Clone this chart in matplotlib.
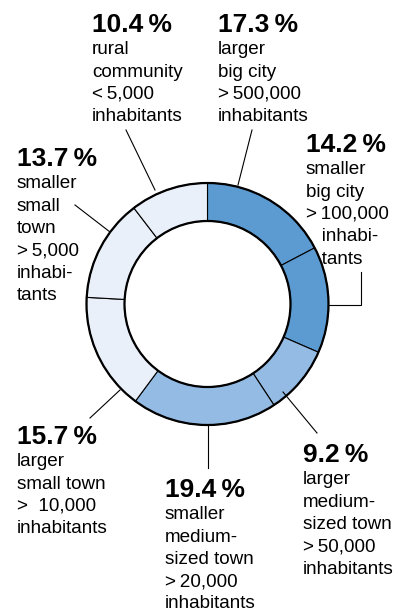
import matplotlib.pyplot as plt
from matplotlib.patches import Circle

plt.rcParams['font.family'] = ['Liberation Sans', 'DejaVu Sans']

# share of population by municipality size, clockwise from the top
shares = [17.3, 14.2, 9.2, 19.4, 15.7, 13.7, 10.4]
pct_labels = ['17.3\u2009%', '14.2\u2009%', '9.2\u2009%', '19.4\u2009%',
              '15.7\u2009%', '13.7\u2009%', '10.4\u2009%']
descriptions = [
    ['larger', 'big city', '>\u2009500,000', 'inhabitants'],
    ['smaller', 'big city', '>\u2009100,000', '   inhabi-', '   tants'],
    ['larger', 'medium-', 'sized town', '>\u200950,000', 'inhabitants'],
    ['smaller', 'medium-', 'sized town', '>\u200920,000', 'inhabitants'],
    ['larger', 'small town', '>  10,000', 'inhabitants'],
    ['smaller', 'small', 'town', '>\u20095,000', 'inhabi-', 'tants'],
    ['rural', 'community', '<\u20095,000', 'inhabitants'],
]
colors = ['#5b9bd1', '#5b9bd1', '#93bbe3', '#93bbe3',
          '#eaf0fa', '#eaf0fa', '#eaf0fa']

W, H = 411, 611
CX, CY = 207.5, 304
R_OUT, RING = 121, 38


def Y(y):
    # pixel row (from top) -> data y
    return H - y


fig = plt.figure(figsize=(W / 100, H / 100), dpi=100)
ax = fig.add_axes([0, 0, 1, 1])

ax.pie(shares, colors=colors, startangle=90, counterclock=False,
       center=(CX, Y(CY)), radius=R_OUT,
       wedgeprops=dict(width=RING, edgecolor='black', linewidth=0.8))
ax.add_patch(Circle((CX, Y(CY)), R_OUT, fill=False, lw=1.6, color='black'))
ax.add_patch(Circle((CX, Y(CY)), R_OUT - RING, fill=False, lw=1.6, color='black'))

# label block: left x, title baseline (pixels from top)
label_pos = [(218, 32), (306, 152), (303, 462), (165, 497),
             (17, 444), (17, 166), (92, 32)]
LINE = 22.3
for (x, yb), pct, desc in zip(label_pos, pct_labels, descriptions):
    ax.text(x, Y(yb), pct, fontsize=19, fontweight='bold',
            va='baseline', ha='left')
    for i, line in enumerate(desc):
        ax.text(x, Y(yb + LINE * (i + 1)), line, fontsize=13.6,
                va='baseline', ha='left')

# leader lines
leaders = [
    [(252, 130), (238, 185)],
    [(329, 305), (361, 305), (361, 272)],
    [(283, 392), (317, 433)],
    [(208, 425), (208, 468)],
    [(120, 390), (90, 418)],
    [(110, 232), (75, 205)],
    [(155, 190), (126, 130)],
]
for pts in leaders:
    ax.plot([p[0] for p in pts], [Y(p[1]) for p in pts],
            color='black', lw=0.8, solid_joinstyle='miter')

ax.set_xlim(0, W)
ax.set_ylim(0, H)
ax.set_aspect('equal')
ax.axis('off')

fig.savefig('out.png', dpi=100)
